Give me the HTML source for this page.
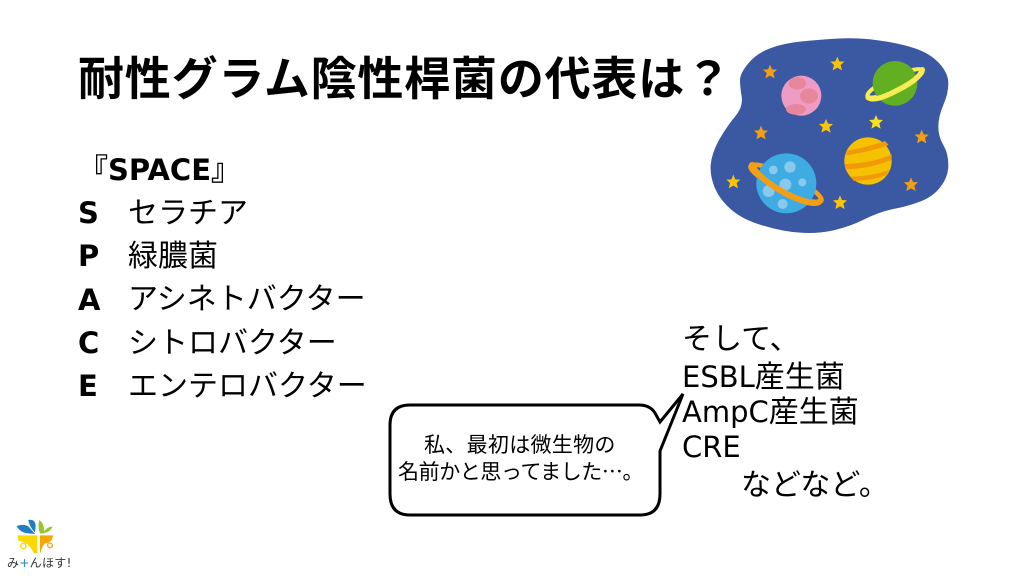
<!DOCTYPE html>
<html lang="ja">
<head>
<meta charset="utf-8">
<style>
html,body{margin:0;padding:0;background:#fff}
#s{position:relative;width:1024px;height:576px;overflow:hidden;background:#fff;font-family:"DejaVu Sans","Noto Sans CJK JP",sans-serif;color:#000}
.t{position:absolute;white-space:nowrap;line-height:1}
.b{font-weight:bold}
.l{font-size:30px}
.l span{font-size:29px}
.c{font-size:21px}
.e{font-family:"Noto Sans CJK JP",sans-serif}
svg{position:absolute;left:0;top:0}
</style>
</head>
<body>
<div id="s">
<svg width="1024" height="576" viewBox="0 0 1024 576">
  <defs>
    <polygon id="st" points="0,-21 6,-7 21,-6 10,4 14,20 0,12 -14,20 -10,4 -21,-6 -6,-7"/>
  </defs>
  <g transform="translate(700,30) scale(.33333)">
    <path fill="#3b58a3" d="M145,100 Q170,70 210,55 Q250,40 300,35 Q350,30 410,26 Q470,22 535,31 Q600,40 645,55 Q690,70 718,100 Q745,130 745,160 Q745,190 730,225 Q715,260 715,290 Q715,320 730,345 Q745,370 745,405 Q745,440 722,470 Q700,500 660,515 Q620,530 580,537 Q540,545 495,567 Q450,590 400,601 Q350,612 300,608 Q250,605 190,587 Q130,570 95,540 Q60,510 45,475 Q30,440 32,405 Q35,370 57,330 Q80,290 105,260 Q130,230 125,200 Q120,170 120,150 Q120,130 145,100Z"/>
    <!-- pink planet -->
    <circle cx="304" cy="197" r="60" fill="#ef9cc4"/>
    <ellipse cx="327" cy="198" rx="27" ry="23" fill="#e8879c"/>
    <ellipse cx="292" cy="160" rx="26" ry="19" fill="#e8879c"/>
    <ellipse cx="288" cy="238" rx="30" ry="16" fill="#e8879c"/>
    <!-- green planet -->
    <ellipse cx="585" cy="160" rx="91" ry="20" transform="rotate(-25 585 160)" fill="none" stroke="#f7ec55" stroke-width="12"/>
    <circle cx="585" cy="160" r="67" fill="#62b022"/>
    <path d="M504,202 Q522,218 590,182 Q660,147 667,119" fill="none" stroke="#f7ec55" stroke-width="16" stroke-linecap="round"/>
    <!-- striped planet -->
    <circle cx="504" cy="393" r="71" fill="#f6c200"/>
    <path d="M442,362 Q500,352 555,333 L566,345 Q510,366 438,376Z M434,402 Q510,400 575,374 L575,390 Q510,416 436,418Z M450,440 Q510,440 568,420 L558,436 Q510,452 462,453Z" fill="#ef9a06"/>
    <!-- blue planet -->
    <ellipse cx="258" cy="460" rx="118" ry="24" transform="rotate(26 258 460)" fill="none" stroke="#f29f15" stroke-width="14"/>
    <circle cx="259" cy="460" r="90" fill="#3fabe3"/>
    <circle cx="270" cy="411" r="17" fill="#8ac9ec"/>
    <circle cx="220" cy="420" r="13" fill="#8ac9ec"/>
    <circle cx="256" cy="464" r="18" fill="#8ac9ec"/>
    <circle cx="307" cy="457" r="12" fill="#8ac9ec"/>
    <circle cx="206" cy="483" r="18" fill="#8ac9ec"/>
    <circle cx="248" cy="522" r="15" fill="#8ac9ec"/>
    <path d="M156,405 Q170,442 260,492 Q345,532 360,513" fill="none" stroke="#f29f15" stroke-width="18" stroke-linecap="round"/>
    <!-- stars -->
    <g fill="#f29f15">
      <use href="#st" x="210" y="125"/>
      <use href="#st" x="183" y="308"/>
      <use href="#st" x="665" y="320"/>
      <use href="#st" x="633" y="463"/>
    </g>
    <g fill="#f8c40a">
      <use href="#st" x="412" y="101"/>
      <use href="#st" x="378" y="288"/>
      <use href="#st" x="100" y="455"/>
      <use href="#st" x="420" y="517"/>
    </g>
    <use href="#st" x="528" y="276" fill="#f8e11a"/>
  </g>

  <!-- speech bubble -->
  <path d="M410,405 H639 Q650,405 655,413 L660,422 L683,394 L660,451 V494 Q660,515 640,515 H410 Q390,515 390,494 V425 Q390,405 410,405Z" fill="#fff" stroke="#000" stroke-width="3" stroke-linejoin="miter"/>

  <!-- logo -->
  <g transform="translate(0,510) scale(.33333)">
    <path d="M50,48 Q75,40 88,52 L105,72 L85,70 Q60,68 50,48Z" fill="#1f7fc0"/>
    <path d="M85,30 Q104,26 107,45 L105,68 Q88,50 85,30Z" fill="#1f7fc0"/>
    <path d="M118,30 Q135,42 132,70 L120,70 Q112,50 118,30Z" fill="#9ac52a"/>
    <path d="M128,70 Q140,50 158,50 Q150,68 128,70Z" fill="#9ac52a"/>
    <path d="M52,76 H112 V128 Q108,132 100,128 Q90,100 55,92Z" fill="#fad800"/>
    <circle cx="70" cy="108" r="8" fill="none" stroke="#fad800" stroke-width="4"/>
    <path d="M120,76 H160 L155,90 Q145,100 135,100 Q125,110 122,128 L120,128Z" fill="#f6a800"/>
    <circle cx="150" cy="106" r="7" fill="none" stroke="#f6a800" stroke-width="4"/>
  </g>
</svg>

<div class="t b" style="left:78px;top:56px;font-size:46px;letter-spacing:.8px">耐性グラム陰性桿菌の代表は？</div>

<div class="t l b" style="left:78px;top:156px">『<span>SPACE</span>』</div>

<div class="t l b" style="left:78px;top:199px"><span>S</span></div>
<div class="t l" style="left:128px;top:199px">セラチア</div>
<div class="t l b" style="left:78px;top:242px"><span>P</span></div>
<div class="t l" style="left:128px;top:242px">緑膿菌</div>
<div class="t l b" style="left:78px;top:286px"><span>A</span></div>
<div class="t l" style="left:128px;top:285px">アシネトバクター</div>
<div class="t l b" style="left:78px;top:329px"><span>C</span></div>
<div class="t l" style="left:128px;top:329px">シトロバクター</div>
<div class="t l b" style="left:78px;top:372px"><span>E</span></div>
<div class="t l" style="left:128px;top:372px">エンテロバクター</div>

<div class="t l" style="left:682px;top:325px">そして、</div>
<div class="t l" style="left:682px;top:363px"><span>ESBL</span>産生菌</div>
<div class="t l" style="left:682px;top:398px"><span>AmpC</span>産生菌</div>
<div class="t l" style="left:682px;top:433px"><span>CRE</span></div>
<div class="t l" style="left:741px;top:471px">などなど。</div>

<div class="t c" style="left:424px;top:435px;letter-spacing:.3px">私、最初は微生物の</div>
<div class="t c" style="left:398px;top:461px;letter-spacing:-.4px">名前かと思ってました<span class="e">…</span>。</div>

<div class="t" style="left:7px;top:557px;font-size:12px;letter-spacing:.3px;color:#333">み<span style="color:#1f7fc0">+</span>んほす!</div>
</div>
</body>
</html>
